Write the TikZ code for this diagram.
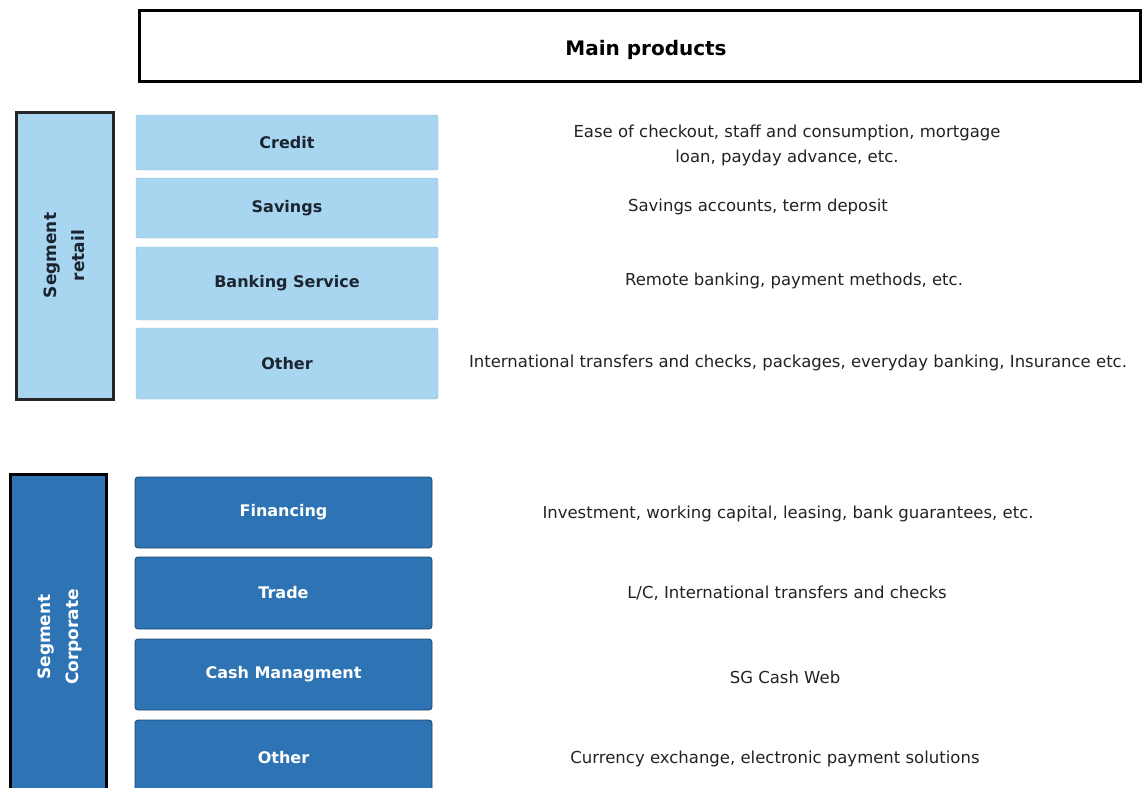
\documentclass[tikz,border=0pt]{standalone}
\usepackage{fontspec}
\setmainfont{DejaVu Sans}
\begin{document}
\begin{tikzpicture}[x=1pt,y=-1pt,
  segbox/.style={draw=black,line width=3pt,inner sep=0pt},
  retailitem/.style={fill=retailblue,draw=retailblue!85!black,line width=0.4pt,rounded corners=2pt,
    minimum width=302pt,inner sep=0pt,text=labeldark,font=\fontsize{16}{18}\selectfont\bfseries},
  corpitem/.style={fill=corpblue,draw=corpblue!60!black,line width=0.8pt,rounded corners=3pt,
    minimum width=297pt,inner sep=0pt,text=white,font=\fontsize{16}{18}\selectfont\bfseries},
  desc/.style={align=center,text=desctext,font=\fontsize{16.5}{25}\selectfont,inner sep=0pt},
  seglabel/.style={rotate=90,align=center,font=\fontsize{17}{28}\selectfont\bfseries,inner sep=0pt}]
\definecolor{retailblue}{RGB}{168,214,240}
\definecolor{corpblue}{RGB}{46,116,181}
\definecolor{labeldark}{RGB}{28,36,48}
\definecolor{desctext}{RGB}{34,34,34}
\useasboundingbox (0,0) rectangle (1142,787);
\clip (0,0) rectangle (1142,787);

% header
\node[draw=black,line width=3pt,minimum width=1001pt,minimum height=71pt,inner sep=0pt] (main) at (639.5,45.5) {};
\node[font=\fontsize{20}{22}\selectfont\bfseries,inner sep=0pt] (maintitle) at (646,50) {Main products};

% retail segment
\node[segbox,fill=retailblue,draw=black!85,minimum width=97pt,minimum height=287pt] (retail) at (64.5,255.5) {};
\node[seglabel,text=labeldark] (retaillbl) at (retail.center) {Segment\\retail};
\node[retailitem,minimum height=55pt] (credit)  at (287,142.5) {Credit};
\node[retailitem,minimum height=60pt] (savings) at (287,208)   {Savings};
\node[retailitem,minimum height=73pt] (bank)    at (287,283.5) {Banking Service};
\node[retailitem,minimum height=71pt] (rother)  at (287,363.5) {Other};

% corporate segment
\node[segbox,fill=corpblue,minimum width=96pt,minimum height=326pt] (corp) at (58,637) {};
\node[seglabel,text=white] (corplbl) at (60,637) {Segment\\Corporate};
\node[corpitem,minimum height=71pt] (fin)    at (283.5,512.5) {Financing};
\node[corpitem,minimum height=72pt] (trade)  at (283.5,593)   {Trade};
\node[corpitem,minimum height=71pt] (cash)   at (283.5,674.5) {Cash Managment};
\node[corpitem,minimum height=76pt] (cother) at (283.5,758)   {Other};

% product descriptions
\node[desc] (dcredit)  at (787,145) {Ease of checkout, staff and consumption, mortgage\\loan, payday advance, etc.};
\node[desc] (dsavings) at (758,207) {Savings accounts, term deposit};
\node[desc] (dbank)    at (794,281) {Remote banking, payment methods, etc.};
\node[desc] (drother)  at (798,363) {International transfers and checks, packages, everyday banking, Insurance etc.};
\node[desc] (dfin)     at (788,514) {Investment, working capital, leasing, bank guarantees, etc.};
\node[desc] (dtrade)   at (787,593) {L/C, International transfers and checks};
\node[desc] (dcash)    at (785,677) {SG Cash Web};
\node[desc] (dcother)  at (775,759) {Currency exchange, electronic payment solutions};
\end{tikzpicture}
\end{document}
